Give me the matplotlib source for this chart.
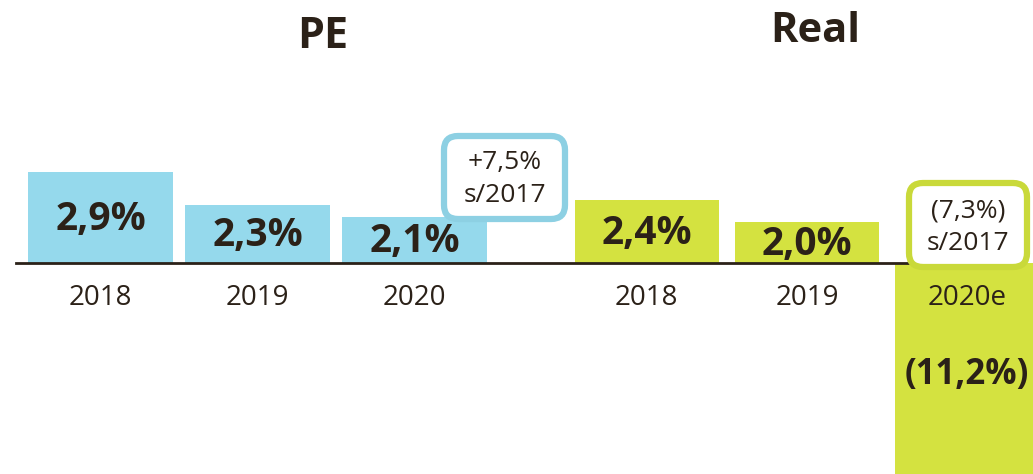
import matplotlib.pyplot as plt
from matplotlib.patches import FancyBboxPatch
from matplotlib.transforms import IdentityTransform

plt.rcParams['font.family'] = ['Open Sans', 'DejaVu Sans']

# data
years = ["2018", "2019", "2020", "2018", "2019", "2020e"]
values = [2.9, 2.3, 2.1, 2.4, 2.0, -11.2]
value_labels = ["2,9%", "2,3%", "2,1%", "2,4%", "2,0%", "(11,2%)"]
groups = ["PE", "PE", "PE", "Real", "Real", "Real"]
group_titles = ["PE", "Real"]
note_pe = ["+7,5%", "s/2017"]
note_real = ["(7,3%)", "s/2017"]

BLUE = "#95d9ec"
GREEN = "#d4e240"
INK = "#2b2118"
colors = {"PE": BLUE, "Real": GREEN}

W, H = 1033, 474
fig = plt.figure(figsize=(W / 100, H / 100), dpi=100)
ax = fig.add_axes([0, 0, 1, 1])

# the original chart uses a truncated value axis: bars start at ~1.27%
base = 1.27
x_pos = [0, 1, 2, 3.48, 4.5, 5.52]
ppu_x = 157.0
ppu_y = 56.0
x0 = -100.5 / ppu_x
ax.set_xlim(x0, x0 + W / ppu_x)
ax.set_ylim(base - (H - 263) / ppu_y, base + 263 / ppu_y)
ax.axis("off")

# baseline
ax.axhline(base, xmin=16 / W, xmax=910 / W, color=INK, lw=2, zorder=4)

ax.bar(x_pos, [v - base for v in values], bottom=base, width=0.92,
       color=[colors[g] for g in groups], zorder=2)

for x, v, lab, yr in zip(x_pos, values, value_labels, years):
    if v > base:
        ax.text(x, (v + base) / 2 - 0.03, lab, ha="center", va="center",
                fontsize=28, fontweight="bold", color=INK, zorder=3)
    else:
        ax.text(x, base - 112 / ppu_y, lab, ha="center", va="center",
                fontsize=25, fontweight="bold", color=INK, zorder=3)
    ax.text(x, base - 35 / ppu_y, yr, ha="center", va="center",
            fontsize=20, color=INK, zorder=3)

# group titles
fig.text(323 / W, 1 - 36 / H, group_titles[0], ha="center", va="center",
         fontsize=31, fontweight="bold", color=INK)
fig.text(815 / W, 1 - 32 / H, group_titles[1], ha="center", va="center",
         fontsize=30, fontweight="bold", color=INK)

px = IdentityTransform()


def note_box(x1, y1, x2, y2, edge, lines, ty):
    box = FancyBboxPatch((x1, H - y2), x2 - x1, y2 - y1,
                         boxstyle="round,pad=0,rounding_size=14",
                         transform=px, facecolor="white", edgecolor=edge,
                         lw=4.5, zorder=5)
    ax.add_patch(box)
    cx = (x1 + x2) / 2
    for line, yy in zip(lines, ty):
        ax.text(cx, H - yy, line, transform=px, ha="center", va="center",
                fontsize=19, color=INK, zorder=6)


note_box(444, 136, 565, 219, "#8dd0e3", note_pe, [162, 195])
note_box(909, 183, 1027, 267, "#c9d93a", note_real, [211, 244])

fig.savefig("out.png", dpi=100)
